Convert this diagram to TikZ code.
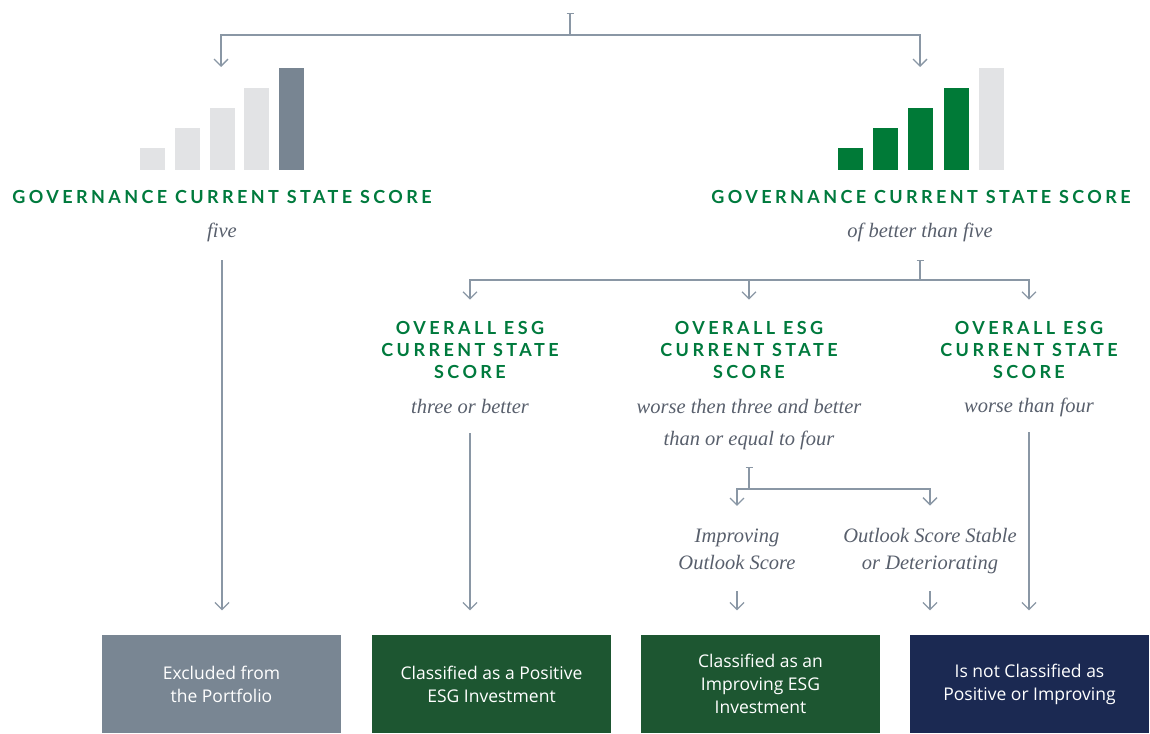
\documentclass[tikz,border=0pt]{standalone}
\usepackage{fontspec}
\setmainfont{Liberation Serif}
\newfontfamily\headfont[LetterSpace=19]{Lato}
\newfontfamily\boxfont{Open Sans}
\usetikzlibrary{arrows.meta}
\definecolor{headgreen}{RGB}{0,122,61}
\definecolor{bargreen}{RGB}{0,122,55}
\definecolor{barlight}{RGB}{226,227,229}
\definecolor{barslate}{RGB}{120,133,146}
\definecolor{linegray}{RGB}{138,151,165}
\definecolor{notegray}{RGB}{88,95,108}
\definecolor{excludegray}{RGB}{121,134,147}
\definecolor{esggreen}{RGB}{29,86,49}
\definecolor{esgnavy}{RGB}{27,41,82}

\begin{document}
\begin{tikzpicture}[x=1pt, y=-1pt, line width=1.3pt, flow/.style={draw=linegray, -{Straight Barb[length=7pt,width=14pt]}}, stem/.style={draw=linegray, {Bar[width=7pt]}-}, head/.style={font=\headfont\bfseries\fontsize{18}{22}\selectfont, text=headgreen, align=center, inner sep=0pt}, note/.style={font=\itshape\fontsize{20.5}{32}\selectfont, text=notegray, align=center, inner sep=0pt}, result/.style={minimum width=239pt, minimum height=98pt, font=\boxfont\fontsize{17.5}{23}\selectfont, text=white, align=center, inner sep=0pt}]
	\useasboundingbox (0,0) rectangle (1150,733);
	\foreach \i/\c in {0/barlight,1/barlight,2/barlight,3/barlight,4/barslate}
		\fill[\c] (140+34.8*\i,170) rectangle ++(25,-22-20*\i);
	\foreach \i/\c in {0/bargreen,1/bargreen,2/bargreen,3/bargreen,4/barlight}
		\fill[\c] (838+35.2*\i,170) rectangle ++(25,-22-20*\i);
	\coordinate (root) at (570,13);
	\coordinate (g5in) at (221,67);
	\coordinate (gbin) at (920,67);
	\node[head] (g5) at (222,196.5) {GOVERNANCE CURRENT STATE SCORE};
	\node[note] (five) at (222,232) {five};
	\node[head] (gb) at (921,196.5) {GOVERNANCE CURRENT STATE SCORE};
	\node[note] (better) at (920,232) {of better than five};
	\node[head] (e1) at (470,350) {OVERALL ESG\\CURRENT STATE\\SCORE};
	\node[head] (e2) at (749,350) {OVERALL ESG\\CURRENT STATE\\SCORE};
	\node[head] (e3) at (1029,350) {OVERALL ESG\\CURRENT STATE\\SCORE};
	\node[note] (n1) at (470,406.5) {three or better};
	\node[note] (n2) at (749,425) {worse then three and better\\than or equal to four};
	\node[note] (n3) at (1029,407) {worse than four};
	\node[note, font=\itshape\fontsize{20.5}{27}\selectfont] (imp) at (737,549) {Improving\\Outlook Score};
	\node[note, font=\itshape\fontsize{20.5}{27}\selectfont] (stb) at (930,551) {Outlook Score Stable\\or Deteriorating};
	\node[result, fill=excludegray] (b1) at (221.5,684) {Excluded from\\the Portfolio};
	\node[result, fill=esggreen] (b2) at (491.5,684) {Classified as a Positive\\ESG Investment};
	\node[result, fill=esggreen] (b3) at (760.5,684) {Classified as an\\Improving ESG\\Investment};
	\node[result, fill=esgnavy] (b4) at (1029.5,684) {Is not Classified as\\Positive or Improving};
	\draw[stem] (root) -- ++(0,22) coordinate (fork1);
	\draw[flow] (fork1) -| (g5in);
	\draw[flow] (fork1) -| (gbin);
	\draw[flow, shorten >=24pt] ([yshift=-18pt]five.south) -- (five.south |- b1.north);
	\draw[stem] ([yshift=-18pt]better.south) -- ++(0,20) coordinate (fork2);
	\draw[flow, shorten >=21pt] (fork2) -| (e1.north);
	\draw[flow, shorten >=21pt] (fork2) -| (e2.north);
	\draw[flow, shorten >=21pt] (fork2) -| (e3.north);
	\draw[flow, shorten >=24pt] ([yshift=-19pt]n1.south) -- (n1.south |- b2.north);
	\draw[flow, shorten >=24pt] ([yshift=-15pt]n3.south) -- (n3.south |- b4.north);
	\draw[stem] ([yshift=-16pt]n2.south) -- ++(0,22) coordinate (fork3);
	\draw[flow, shorten >=22pt] (fork3) -| (imp.north);
	\draw[flow, shorten >=22pt] (fork3) -| (stb.north);
	\draw[flow, shorten >=24pt] ([yshift=-21pt]imp.south) -- (imp.south |- b3.north);
	\draw[flow, shorten >=24pt] ([yshift=-17pt]stb.south) -- (stb.south |- b4.north);
\end{tikzpicture}
\end{document}
